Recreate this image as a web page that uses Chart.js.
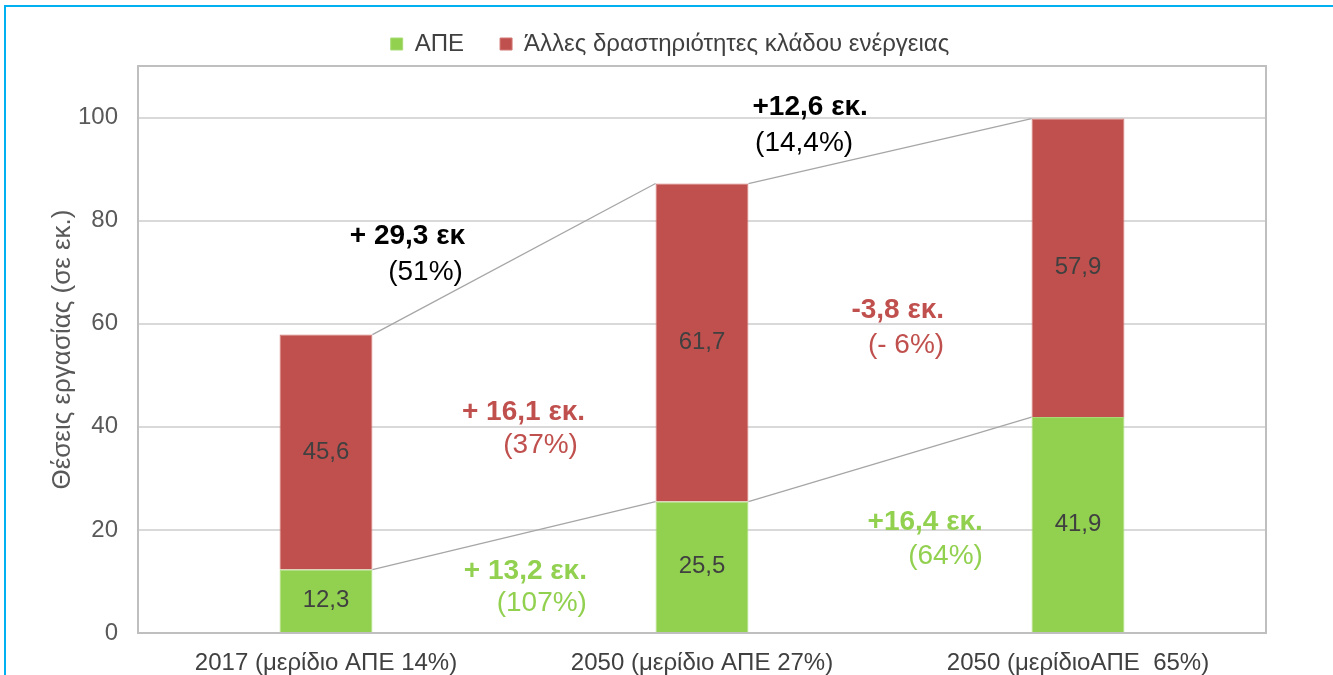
<!DOCTYPE html>
<html>
<head>
<meta charset="utf-8">
<script src="https://cdn.jsdelivr.net/npm/chart.js@4.4.1/dist/chart.umd.min.js"></script>
<style>
  html, body { margin: 0; padding: 0; background: #fff; overflow: hidden; }
  #frame { position: absolute; left: 4px; top: 5px; width: 1400px; height: 800px; border: 2px solid #00b0f0; }
  #wrap { position: absolute; left: 0; top: 0; width: 1333px; height: 675px; }
</style>
</head>
<body>
<div id="frame"></div>
<div id="wrap"><canvas id="jobsChart"></canvas></div>
<script>
// ─── DATA ──────────────────────────────────────────────────
const categories = ['2017 (μερίδιο ΑΠΕ 14%)', '2050 (μερίδιο ΑΠΕ 27%)', '2050 (μερίδιοΑΠΕ  65%)'];
const resJobs    = [12.3, 25.5, 41.9];
const otherJobs  = [45.6, 61.7, 57.9];
const seriesNames = ['ΑΠΕ', 'Άλλες δραστηριότητες κλάδου ενέργειας'];
const yTicks     = [0, 20, 40, 60, 80, 100];
const yTitle     = 'Θέσεις εργασίας (σε εκ.)';

// change callouts: [text, bold, colour, x (category index), y (value)] — right aligned
const callouts = [
  ['+ 29,3 εκ',   true,  '#000000', 0.370, 76.9],
  ['(51%)',       false, '#000000', 0.364, 70.0],
  ['+12,6 εκ.',   true,  '#000000', 1.441, 101.9],
  ['(14,4%)',     false, '#000000', 1.402, 95.0],
  ['-3,8 εκ.',    true,  '#c0504d', 1.644, 62.6],
  ['(- 6%)',      false, '#c0504d', 1.644, 55.8],
  ['+ 16,1 εκ.',  true,  '#c0504d', 0.689, 42.8],
  ['(37%)',       false, '#c0504d', 0.670, 36.4],
  ['+ 13,2 εκ.',  true,  '#92d050', 0.694, 12.0],
  ['(107%)',      false, '#92d050', 0.694, 5.8],
  ['+16,4 εκ.',   true,  '#92d050', 1.747, 21.5],
  ['(64%)',       false, '#92d050', 1.747, 14.9],
];

const GREEN = '#92d050';
const RED   = '#c0504d';
const FONT  = "'Liberation Sans', Arial, sans-serif";

// ─── PLUGINS ───────────────────────────────────────────────
const frameAndLinks = {
  id: 'frameAndLinks',
  beforeDatasetsDraw(chart) {
    const { ctx, chartArea: a } = chart;
    ctx.save();
    ctx.strokeStyle = '#bfbfbf';
    ctx.lineWidth = 2;
    ctx.strokeRect(a.left, a.top, a.right - a.left, a.bottom - a.top);
    ctx.restore();
  },
  afterDatasetsDraw(chart) {
    const { ctx } = chart;
    ctx.save();
    // connectors between bar tops
    ctx.strokeStyle = '#a6a6a6';
    ctx.lineWidth = 1.3;
    [0, 1].forEach(di => {
      const bars = chart.getDatasetMeta(di).data;
      for (let i = 0; i < bars.length - 1; i++) {
        const b0 = bars[i], b1 = bars[i + 1];
        ctx.beginPath();
        ctx.moveTo(b0.x + b0.width / 2, b0.y);
        ctx.lineTo(b1.x - b1.width / 2, b1.y);
        ctx.stroke();
      }
    });
    // values inside segments
    ctx.fillStyle = '#404040';
    ctx.font = '24px ' + FONT;
    ctx.textAlign = 'center';
    ctx.textBaseline = 'middle';
    [0, 1].forEach(di => {
      const ds = chart.data.datasets[di];
      chart.getDatasetMeta(di).data.forEach((b, i) => {
        ctx.fillText(ds.data[i].toFixed(1).replace('.', ','), b.x, (b.y + b.base) / 2);
      });
    });
    // callouts
    const xs = chart.scales.x, ys = chart.scales.y;
    ctx.textAlign = 'right';
    callouts.forEach(([t, bold, col, xv, yv]) => {
      ctx.font = (bold ? 'bold ' : '') + '28px ' + FONT;
      ctx.fillStyle = col;
      ctx.fillText(t, xs.getPixelForValue(xv), ys.getPixelForValue(yv));
    });
    ctx.restore();
  }
};

// ─── CHART ─────────────────────────────────────────────────
new Chart(document.getElementById('jobsChart'), {
  type: 'bar',
  data: {
    labels: categories,
    datasets: [
      { label: seriesNames[0], data: resJobs,   backgroundColor: GREEN, borderColor: '#a9dc78', borderWidth: 1 },
      { label: seriesNames[1], data: otherJobs, backgroundColor: RED,   borderColor: '#d27976', borderWidth: 1 },
    ],
  },
  options: {
    responsive: true,
    maintainAspectRatio: false,
    animation: false,
    layout: { padding: { left: 74, right: 67, top: -4, bottom: 0 } },
    datasets: { bar: { categoryPercentage: 1, barPercentage: 0.247 } },
    plugins: {
      legend: {
        position: 'top',
        labels: { boxWidth: 12, boxHeight: 12, padding: 36, color: '#404040', font: { family: FONT, size: 24 } },
      },
      tooltip: { enabled: false },
    },
    scales: {
      x: {
        stacked: true,
        grid: { display: false },
        border: { display: false },
        ticks: { color: '#404040', font: { family: FONT, size: 24 }, padding: 8, maxRotation: 0 },
        afterFit: s => { s.height = 42; },
      },
      y: {
        stacked: true,
        min: 0, max: 110,
        afterBuildTicks: s => { s.ticks = yTicks.map(v => ({ value: v })); },
        grid: { color: '#d9d9d9', lineWidth: 2, drawTicks: false },
        border: { display: false },
        ticks: { color: '#595959', font: { family: FONT, size: 24 }, padding: 20 },
        title: { display: true, text: yTitle, color: '#595959', font: { family: FONT, size: 26 }, padding: { top: -27 } },
        afterFit: s => { s.width = 64; },
      },
    },
  },
  plugins: [frameAndLinks],
});
</script>
</body>
</html>
